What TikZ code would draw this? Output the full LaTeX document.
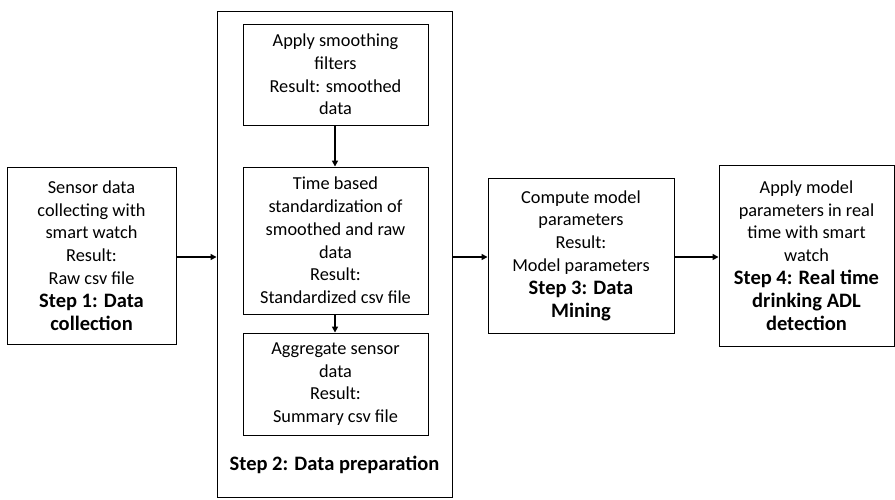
\documentclass[tikz,border=0pt]{standalone}
\usepackage{fontspec}
\setmainfont{Carlito}
\usetikzlibrary{arrows.meta}
\newcommand{\stepbf}{\fontsize{20.5}{25}\selectfont\bfseries}
\begin{document}
\begin{tikzpicture}[x=1pt,y=-1pt,
  box/.style={draw=black,line width=0.9pt,align=center,inner sep=0pt,font=\fontsize{18.3}{22.8}\selectfont},
  conn/.style={line width=1.8pt,-{Triangle[length=6pt,width=6pt]}}]
\useasboundingbox (0,0) rectangle (895,499);
\node[box,minimum width=169pt,minimum height=177pt] (s1) at (91.5,255.5)
  {Sensor data\\collecting with\\smart watch\\Result:\\Raw csv file\\{\stepbf Step 1: Data}\\{\stepbf collection}};
\node[box,minimum width=235pt,minimum height=486pt] (s2) at (334.5,254) {};
\node[box,minimum width=185pt,minimum height=101pt] (a) at (335.5,74.5)
  {Apply smoothing\\filters\\Result: smoothed\\data};
\node[box,minimum width=185pt,minimum height=147pt] (b) at (335.5,240.5)
  {Time based\\standardization of\\smoothed and raw\\data\\Result:\\Standardized csv file};
\node[box,minimum width=185pt,minimum height=102pt] (c) at (335.5,384)
  {Aggregate sensor\\data\\Result:\\Summary csv file};
\node[font=\stepbf,inner sep=0pt] (s2lab) at (334.5,465) {Step 2: Data preparation};
\node[box,minimum width=186pt,minimum height=155pt] (s3) at (581,255.5)
  {Compute model\\parameters\\Result:\\Model parameters\\{\stepbf Step 3: Data}\\{\stepbf Mining}};
\node[box,minimum width=175pt,minimum height=181pt] (s4) at (806.5,255.5)
  {Apply model\\parameters in real\\time with smart\\watch\\{\stepbf Step 4: Real time}\\{\stepbf drinking ADL}\\{\stepbf detection}};
\draw[conn] (s1.east|-0,257) -- (s2.west|-0,257);
\draw[conn] (a.south-|335,0) -- (b.north-|335,0);
\draw[conn] (b.south-|335,0) -- (c.north-|335,0);
\draw[conn] (s2.east|-0,257) -- (s3.west|-0,257);
\draw[conn] (s3.east|-0,257) -- (s4.west|-0,257);
\end{tikzpicture}
\end{document}
